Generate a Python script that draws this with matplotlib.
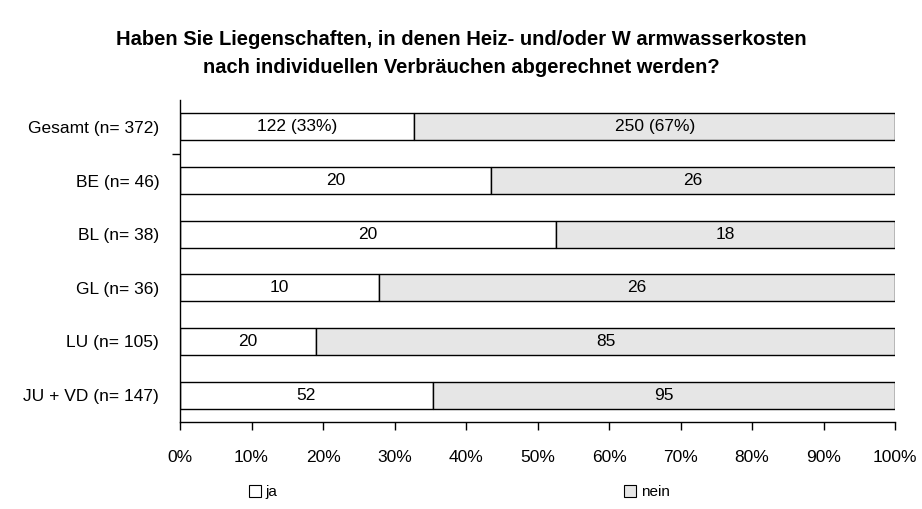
import numpy as np
import matplotlib
matplotlib.use("Agg")
import matplotlib.pyplot as plt
from matplotlib.patches import Patch

plt.rcParams['font.family'] = ['Liberation Sans', 'DejaVu Sans']

categories = ["Gesamt (n= 372)", "BE (n= 46)", "BL (n= 38)", "GL (n= 36)",
              "LU (n= 105)", "JU + VD (n= 147)"]
ja = [122, 20, 20, 10, 20, 52]
nein = [250, 26, 18, 26, 85, 95]
xticks = [0, 10, 20, 30, 40, 50, 60, 70, 80, 90, 100]

ja = np.array(ja, dtype=float)
nein = np.array(nein, dtype=float)
total = ja + nein
ja_pct = ja / total * 100
nein_pct = nein / total * 100

fig = plt.figure(figsize=(9.22, 5.09), dpi=100)
ax = fig.add_axes([180 / 922, 1 - 422 / 509, 715 / 922, 322 / 509])

y = np.arange(len(categories))
h = 0.5
ax.barh(y, ja_pct, height=h, color="white", edgecolor="black", linewidth=1)
ax.barh(y, nein_pct, left=ja_pct, height=h, color="#e6e6e6",
        edgecolor="black", linewidth=1)

for i in range(len(categories)):
    if i == 0:
        l1 = f"{int(ja[i])} ({ja_pct[i]:.0f}%)"
        l2 = f"{int(nein[i])} ({nein_pct[i]:.0f}%)"
    else:
        l1 = f"{int(ja[i])}"
        l2 = f"{int(nein[i])}"
    ax.text(ja_pct[i] / 2, y[i], l1, ha="center", va="center", fontsize=12.5)
    ax.text(ja_pct[i] + nein_pct[i] / 2, y[i], l2, ha="center", va="center",
            fontsize=12.5)

ax.set_ylim(len(categories) - 0.5, -0.5)
ax.set_xlim(0, 100)
ax.set_yticks(y)
ax.set_yticklabels(categories, fontsize=12.5)
ax.tick_params(axis="y", length=0, pad=15)
ax.set_yticks([0.5], minor=True)
ax.tick_params(axis="y", which="minor", length=6, width=1)
ax.set_xticks(xticks)
ax.set_xticklabels([f"{v}%" for v in xticks], fontsize=12.5)
ax.tick_params(axis="x", length=6, width=1, pad=14)

for s in ["top", "right"]:
    ax.spines[s].set_visible(False)
for s in ["left", "bottom"]:
    ax.spines[s].set_linewidth(1)

fig.text(0.5, 1 - 53 / 509,
         "Haben Sie Liegenschaften, in denen Heiz- und/oder W armwasserkosten\n"
         "nach individuellen Verbräuchen abgerechnet werden?",
         ha="center", va="center", fontsize=14.5, fontweight="bold",
         linespacing=1.6)

handles = [Patch(facecolor="white", edgecolor="black", linewidth=0.8),
           Patch(facecolor="#e6e6e6", edgecolor="black", linewidth=0.8)]
fig.legend(handles[:1], ["ja"], loc="center", bbox_to_anchor=(263 / 922, 1 - 492 / 509),
           frameon=False, fontsize=11, handlelength=0.8, handleheight=0.8,
           handletextpad=0.3)
fig.legend(handles[1:], ["nein"], loc="center", bbox_to_anchor=(647 / 922, 1 - 492 / 509),
           frameon=False, fontsize=11, handlelength=0.8, handleheight=0.8,
           handletextpad=0.3)

fig.savefig("out.png", dpi=100)
